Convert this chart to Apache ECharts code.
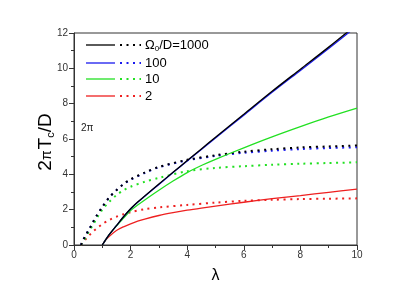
<!DOCTYPE html>
<html><head><meta charset="utf-8">
<script src="https://cdn.jsdelivr.net/npm/echarts@6/dist/echarts.min.js"></script>
<style>html,body{margin:0;padding:0;background:#fff}#c{width:415px;height:294px}</style>
</head><body><div id="c"></div>
<script>
// Solid curves (lambda grid)
var solidX    = [1, 1.1, 1.25, 1.5, 1.75, 2, 2.25, 2.5, 3, 3.5, 4, 4.5, 5, 6, 7, 8, 9, 10];
var solid1000 = [0, 0.25, 0.6, 1.1, 1.6, 2.05, 2.43, 2.78, 3.45, 4.12, 4.78, 5.44, 6.1, 7.4, 8.7, 9.95, 11.2, 12.5];
var solid100  = [0, 0.25, 0.6, 1.1, 1.6, 2.04, 2.42, 2.76, 3.43, 4.1, 4.76, 5.41, 6.06, 7.35, 8.64, 9.88, 11.12, 12.4];
var solid10   = [0, 0.25, 0.6, 1.08, 1.52, 1.95, 2.26, 2.55, 3.1, 3.62, 4.1, 4.5, 4.85, 5.5, 6.12, 6.7, 7.25, 7.75];
var solid2    = [0, 0.25, 0.5, 0.82, 1.03, 1.2, 1.35, 1.47, 1.67, 1.83, 1.97, 2.09, 2.2, 2.42, 2.62, 2.8, 2.98, 3.16];
// Dotted curves
var dotX    = [0.25, 0.3, 0.4, 0.5, 0.6, 0.7, 0.8, 1, 1.25, 1.5, 1.75, 2, 2.5, 3, 4, 5, 6, 7, 8, 9, 10];
var dot1000 = [0, 0.22, 0.5, 0.8, 1.08, 1.38, 1.66, 2.15, 2.7, 3.1, 3.45, 3.72, 4.1, 4.42, 4.82, 5.08, 5.28, 5.42, 5.52, 5.58, 5.63];
var dot100  = [0, 0.22, 0.5, 0.8, 1.08, 1.38, 1.66, 2.15, 2.7, 3.1, 3.44, 3.7, 4.08, 4.4, 4.79, 5.04, 5.22, 5.34, 5.43, 5.49, 5.53];
var dot10   = [0, 0.12, 0.4, 0.68, 0.95, 1.22, 1.5, 2.0, 2.45, 2.82, 3.1, 3.3, 3.58, 3.8, 4.18, 4.36, 4.46, 4.54, 4.6, 4.64, 4.68];
var dot2    = [0, 0.1, 0.3, 0.48, 0.65, 0.8, 0.93, 1.18, 1.42, 1.6, 1.74, 1.86, 2.03, 2.13, 2.27, 2.4, 2.5, 2.56, 2.6, 2.62, 2.64];
var legendLabels = ['1000', '100', '10', '2'];
var colors = ['#000000', '#1a1aee', '#22e022', '#ee2020'];

function pairs(xs, ys){ return xs.map(function(x,i){ return [x, ys[i]]; }); }
var solids = [solid1000, solid100, solid10, solid2];
var dots = [dot1000, dot100, dot10, dot2];
var series = [];
var order = [3,2,1,0];
order.forEach(function(i){
  series.push({type:'line', data: pairs(dotX, dots[i]), showSymbol:false, smooth:0.3, clip:true,
    lineStyle:{color:colors[i], width:2, type:[2,4.5]}});
});
order.forEach(function(i){
  series.push({type:'line', data: pairs(solidX, solids[i]), showSymbol:false, smooth:0.3, clip:true,
    lineStyle:{color:colors[i], width:1.3}});
});

var graphics = [];
var rowsY = [45, 63, 79, 96];
for (var i=0;i<4;i++){
  graphics.push({type:'line', shape:{x1:86,y1:rowsY[i],x2:115,y2:rowsY[i]}, style:{stroke:colors[i], lineWidth:1.3}});
  graphics.push({type:'line', shape:{x1:120,y1:rowsY[i],x2:141,y2:rowsY[i]}, style:{stroke:colors[i], lineWidth:2, lineDash:[2,4.5]}});
  graphics.push({type:'text', x:145, y:rowsY[i], style:{
    text: i===0 ? '{a|Ω}{s|0}{a|/D=' + legendLabels[i] + '}' : '{a|' + legendLabels[i] + '}',
    rich:{a:{fontSize:13, fontFamily:'Liberation Sans', fill:'#000'}, s:{fontSize:8, fontFamily:'Liberation Sans', fill:'#000', padding:[8,0,0,0]}},
    verticalAlign:'middle', fill:'#000'}});
}
graphics.push({type:'text', x:81, y:128, style:{text:'2π', fontSize:10, fontFamily:'Liberation Sans', fill:'#222', verticalAlign:'middle'}});
graphics.push({type:'text', x:46, y:142, rotation:Math.PI/2, style:{
  text:'{a|2}{p|π}{a|T}{s|c}{a|/D}',
  rich:{a:{fontSize:19, fontFamily:'Liberation Sans', fill:'#000'},
        p:{fontSize:14, fontFamily:'Liberation Sans', fill:'#000', padding:[3,1,0,0]},
        s:{fontSize:11, fontFamily:'Liberation Sans', fill:'#000', padding:[10,0,0,0]}},
  align:'center', verticalAlign:'middle'}});
graphics.push({type:'text', x:215.5, y:276, style:{text:'λ', fontSize:16, fontFamily:'Liberation Sans', fill:'#000', align:'center', verticalAlign:'middle'}});

var chart = echarts.init(document.getElementById('c'), null, {renderer:'canvas'});
chart.setOption({
  animation:false,
  grid:{left:74, right:58, top:33, bottom:49, show:true, borderColor:'#333', borderWidth:1, backgroundColor:'transparent'},
  xAxis:{type:'value', min:0, max:10, interval:2,
    axisLine:{show:true, lineStyle:{color:'#333'}},
    axisTick:{show:true, inside:false, length:5, lineStyle:{color:'#333'}},
    minorTick:{show:true, splitNumber:2, length:3, lineStyle:{color:'#333'}},
    splitLine:{show:false},
    axisLabel:{fontSize:10, color:'#333', fontFamily:'Liberation Sans', margin:5}},
  yAxis:{type:'value', min:0, max:12, interval:2,
    axisLine:{show:true, lineStyle:{color:'#333'}},
    axisTick:{show:true, inside:false, length:5, lineStyle:{color:'#333'}},
    minorTick:{show:true, splitNumber:2, length:3, lineStyle:{color:'#333'}},
    splitLine:{show:false},
    axisLabel:{fontSize:10, color:'#333', fontFamily:'Liberation Sans', margin:6}},
  series: series,
  graphic: graphics
});
</script></body></html>
